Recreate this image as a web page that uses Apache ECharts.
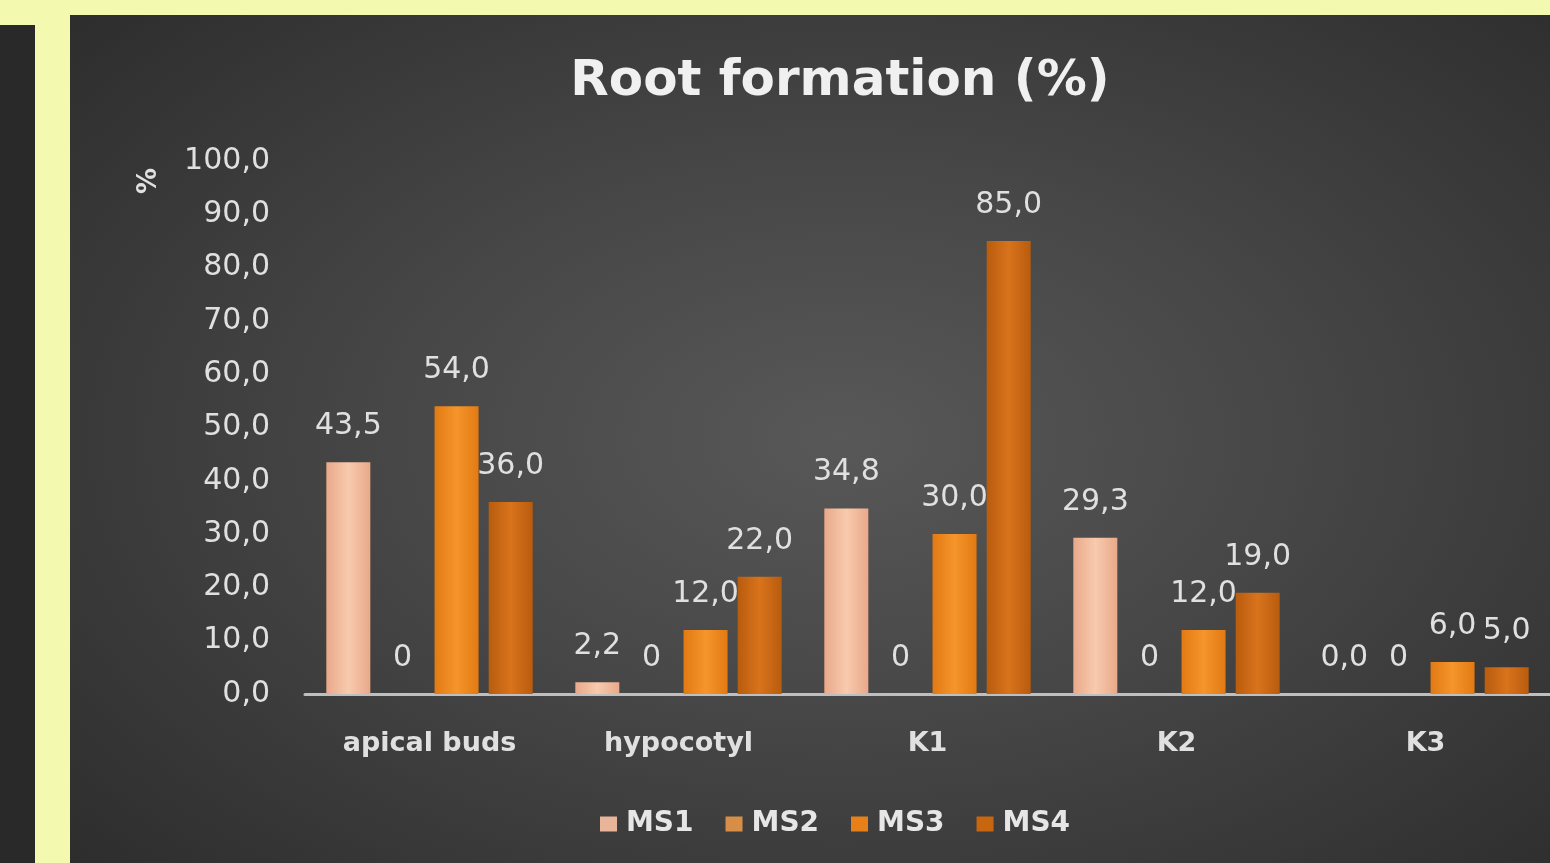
<!DOCTYPE html>
<html>
<head>
<meta charset="utf-8">
<script src="https://cdn.jsdelivr.net/npm/echarts@6/dist/echarts.min.js"></script>
<style>
html,body{margin:0;padding:0;width:1550px;height:863px;overflow:hidden;background:#f4f9b0;}
#leftpanel{position:absolute;left:0;top:25px;width:35px;height:838px;background:#292929;}
#mainpanel{position:absolute;left:70px;top:15px;width:1480px;height:848px;
 background:radial-gradient(ellipse 75% 80% at 52% 50%, #585858 0%, #474747 40%, #2a2a2a 100%);}
#chart{position:absolute;left:0;top:0;width:1550px;height:863px;}
</style>
</head>
<body>
<div id="leftpanel"></div>
<div id="mainpanel"></div>
<div id="chart"></div>
<script>
const categories = ['apical buds', 'hypocotyl', 'K1', 'K2', 'K3'];
const seriesNames = ['MS1', 'MS2', 'MS3', 'MS4'];
const ms1 = [43.5, 2.2, 34.8, 29.3, 0.0];
const ms2 = [0, 0, 0, 0, 0];
const ms3 = [54.0, 12.0, 30.0, 12.0, 6.0];
const ms4 = [36.0, 22.0, 85.0, 19.0, 5.0];
const yTicks = [0, 10, 20, 30, 40, 50, 60, 70, 80, 90, 100];

const FONT = 'DejaVu Sans';
function grad(edge, mid) {
  return new echarts.graphic.LinearGradient(0, 0, 1, 0, [
    {offset: 0, color: edge}, {offset: 0.5, color: mid}, {offset: 1, color: edge}
  ]);
}
const colors = [
  grad('#e9a98a', '#f8caae'),
  grad('#c9793a', '#e6a45c'),
  grad('#e27a12', '#f5952c'),
  grad('#b85c0e', '#d9731c')
];
const legendColors = ['#e8b59a', '#d98e48', '#e8801a', '#c8650f'];
const dataSets = [ms1, ms2, ms3, ms4];
const fmtDec = v => v.toFixed(1).replace('.', ',');

const chart = echarts.init(document.getElementById('chart'), null, {renderer: 'canvas'});
chart.setOption({
  backgroundColor: 'transparent',
  animation: false,
  title: {
    text: 'Root formation (%)',
    left: 835, top: 52, textAlign: 'center',
    textStyle: {fontFamily: FONT, fontSize: 50, fontWeight: 'bold', color: '#f0f0f0'}
  },
  legend: {
    data: seriesNames.map((n, i) => ({name: n, itemStyle: {color: legendColors[i]}})),
    left: 595, top: 805,
    icon: 'rect', itemWidth: 17, itemHeight: 15, itemGap: 32,
    textStyle: {fontFamily: FONT, fontSize: 28, fontWeight: 'bold', color: '#e6e6e6', padding: [0, 0, 0, 4]}
  },
  grid: {left: 305, right: 0, top: 161, bottom: 169, containLabel: false},
  xAxis: {
    type: 'category', data: categories,
    axisLine: {lineStyle: {color: '#bfbfbf', width: 3}},
    axisTick: {show: false},
    axisLabel: {fontFamily: FONT, fontSize: 27, fontWeight: 'bold', color: '#e0e0e0', margin: 36}
  },
  yAxis: {
    type: 'value', min: 0, max: 100, interval: 10,
    axisLine: {show: false}, axisTick: {show: false}, splitLine: {show: false},
    axisLabel: {fontFamily: FONT, fontSize: 30, color: '#e0e0e0', margin: 35, padding: [6, 0, 0, 0],
      formatter: v => yTicks.includes(v) ? fmtDec(v) : ''}
  },
  graphic: [{
    type: 'text', x: 136, y: 194, rotation: Math.PI / 2,
    style: {text: '%', fontFamily: FONT, fontSize: 26, fontWeight: 'bold', fill: '#e0e0e0'}
  }],
  series: dataSets.map((d, i) => ({
    name: seriesNames[i], type: 'bar', data: d,
    barWidth: 44, barGap: '23%',
    itemStyle: {color: colors[i]},
    label: {
      show: true, position: 'top', distance: 21,
      fontFamily: FONT, fontSize: 30, color: '#e0e0e0',
      formatter: p => i === 1 ? String(p.value) : fmtDec(p.value)
    }
  }))
});
</script>
</body>
</html>
